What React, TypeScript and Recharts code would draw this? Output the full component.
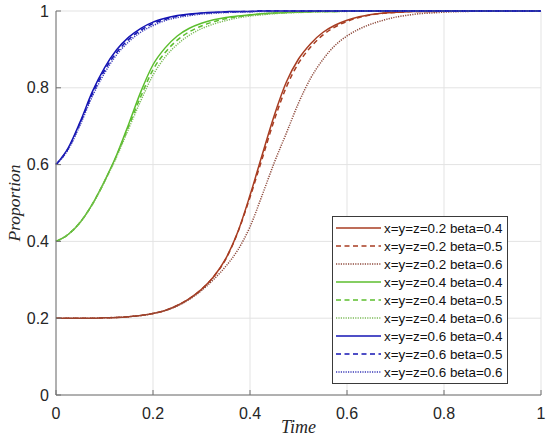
import React from 'react';
import { LineChart, Line, XAxis, YAxis, CartesianGrid, Legend } from 'recharts';

const TIME = [
  0, 0.025, 0.05, 0.075, 0.1, 0.125, 0.15, 0.175, 0.2, 0.225, 0.25, 0.275, 0.3, 0.325, 0.35, 0.375, 0.4,
  0.425, 0.45, 0.475, 0.5, 0.525, 0.55, 0.575, 0.6, 0.625, 0.65, 0.675, 0.7, 0.725, 0.75, 0.775, 0.8,
  0.85, 0.9, 0.95, 1,
];

const X_TICKS = [0, 0.2, 0.4, 0.6, 0.8, 1];
const Y_TICKS = [0, 0.2, 0.4, 0.6, 0.8, 1];
const X_TICK_LABELS = ['0', '0.2', '0.4', '0.6', '0.8', '1'];
const Y_TICK_LABELS = ['0', '0.2', '0.4', '0.6', '0.8', '1'];

const red_b04 = [
  0.200, 0.200, 0.200, 0.200, 0.201, 0.202, 0.204, 0.207, 0.212, 0.220, 0.233, 0.251, 0.275, 0.308, 0.355, 0.425, 0.520,
  0.625, 0.728, 0.815, 0.875, 0.915, 0.944, 0.963, 0.976, 0.985, 0.991, 0.995, 0.997, 0.998, 0.999, 0.999, 1,
  1, 1, 1, 1,
];
const red_b05 = [
  0.200, 0.200, 0.200, 0.200, 0.201, 0.202, 0.204, 0.207, 0.212, 0.220, 0.233, 0.251, 0.275, 0.308, 0.354, 0.424, 0.515,
  0.615, 0.716, 0.802, 0.864, 0.906, 0.937, 0.958, 0.973, 0.983, 0.990, 0.994, 0.996, 0.998, 0.999, 0.999, 1,
  1, 1, 1, 1,
];
const red_b06 = [
  0.200, 0.200, 0.200, 0.200, 0.201, 0.202, 0.204, 0.207, 0.212, 0.220, 0.232, 0.249, 0.272, 0.301, 0.335, 0.378, 0.438,
  0.520, 0.605, 0.682, 0.760, 0.825, 0.873, 0.910, 0.935, 0.953, 0.966, 0.976, 0.984, 0.989, 0.993, 0.995, 0.997,
  0.999, 1, 1, 1,
];
const green_b04 = [
  0.400, 0.418, 0.450, 0.497, 0.557, 0.625, 0.706, 0.790, 0.860, 0.904, 0.935, 0.955, 0.968, 0.977, 0.983, 0.987, 0.990,
  0.993, 0.995, 0.996, 0.997, 0.998, 0.999, 0.999, 1, 1, 1, 1, 1, 1, 1, 1, 1,
  1, 1, 1, 1,
];
const green_b05 = [
  0.400, 0.418, 0.450, 0.497, 0.556, 0.623, 0.700, 0.778, 0.847, 0.892, 0.924, 0.946, 0.961, 0.972, 0.980, 0.985, 0.989,
  0.992, 0.994, 0.996, 0.997, 0.998, 0.999, 0.999, 1, 1, 1, 1, 1, 1, 1, 1, 1,
  1, 1, 1, 1,
];
const green_b06 = [
  0.400, 0.418, 0.450, 0.496, 0.555, 0.620, 0.694, 0.767, 0.833, 0.880, 0.913, 0.937, 0.954, 0.966, 0.975, 0.982, 0.987,
  0.990, 0.993, 0.995, 0.996, 0.997, 0.998, 0.999, 0.999, 1, 1, 1, 1, 1, 1, 1, 1,
  1, 1, 1, 1,
];
const blue_b04 = [
  0.600, 0.643, 0.712, 0.790, 0.852, 0.899, 0.932, 0.955, 0.971, 0.981, 0.988, 0.992, 0.995, 0.997, 0.998, 0.999, 0.999,
  1, 1, 1, 1, 1, 1, 1, 1, 1, 1, 1, 1, 1, 1, 1, 1,
  1, 1, 1, 1,
];
const blue_b05 = [
  0.600, 0.641, 0.708, 0.784, 0.845, 0.892, 0.926, 0.950, 0.967, 0.978, 0.986, 0.990, 0.994, 0.996, 0.997, 0.998, 0.999,
  1, 1, 1, 1, 1, 1, 1, 1, 1, 1, 1, 1, 1, 1, 1, 1,
  1, 1, 1, 1,
];
const blue_b06 = [
  0.600, 0.639, 0.704, 0.778, 0.838, 0.886, 0.920, 0.945, 0.962, 0.975, 0.983, 0.988, 0.992, 0.994, 0.996, 0.997, 0.998,
  0.999, 0.999, 1, 1, 1, 1, 1, 1, 1, 1, 1, 1, 1, 1, 1, 1,
  1, 1, 1, 1,
];

const SERIES_NAMES = [
  'x=y=z=0.2 beta=0.4',
  'x=y=z=0.2 beta=0.5',
  'x=y=z=0.2 beta=0.6',
  'x=y=z=0.4 beta=0.4',
  'x=y=z=0.4 beta=0.5',
  'x=y=z=0.4 beta=0.6',
  'x=y=z=0.6 beta=0.4',
  'x=y=z=0.6 beta=0.5',
  'x=y=z=0.6 beta=0.6',
];
const SERIES_VALUES = [red_b04, red_b05, red_b06, green_b04, green_b05, green_b06, blue_b04, blue_b05, blue_b06];

const RED = '#A83D22';
const RED_DOT = '#8E4A3C';
const GREEN = '#5CBE2E';
const GREEN_DOT = '#7DBB5A';
const BLUE = '#1414B4';
const BLUE_DOT = '#3A3AB8';
const COLORS = [RED, RED, RED_DOT, GREEN, GREEN, GREEN_DOT, BLUE, BLUE, BLUE_DOT];
const DASHES = ['', '5 3.5', '1.2 1.2', '', '5 3.5', '1.2 1.2', '', '5 3.5', '1.2 1.2'];

const data = TIME.map((t, i) => {
  const row: Record<string, number> = { t };
  SERIES_VALUES.forEach((vals, k) => {
    row['s' + k] = vals[i];
  });
  return row;
});

const TICK_FONT = { fontFamily: '"Liberation Sans", Arial, sans-serif', fontSize: 16, fill: '#262626' };
const AXIS_COLOR = '#707070';

const LegendBox = () => (
  <div
    style={{
      width: 174,
      height: 164,
      border: '1px solid #3a3a3a',
      background: '#fff',
      paddingTop: 2,
      boxSizing: 'content-box',
    }}
  >
    {SERIES_NAMES.map((name, k) => (
      <div key={name} style={{ display: 'flex', alignItems: 'center', height: 18 }}>
        <svg width={50} height={18} style={{ display: 'block' }}>
          <line
            x1={3}
            x2={48}
            y1={9}
            y2={9}
            stroke={COLORS[k]}
            strokeWidth={1.6}
            strokeDasharray={DASHES[k] || undefined}
          />
        </svg>
        <span
          style={{
            fontFamily: '"Liberation Sans", Arial, sans-serif',
            fontSize: 13.4,
            color: '#111',
            marginLeft: 1,
            whiteSpace: 'nowrap',
          }}
        >
          {name}
        </span>
      </div>
    ))}
  </div>
);

const XLabel = (props: any) => {
  const vb = props.viewBox || {};
  return (
    <text
      x={vb.x + vb.width / 2}
      y={vb.y + 38}
      textAnchor="middle"
      style={{ fontFamily: '"Liberation Serif", "Times New Roman", serif', fontStyle: 'italic', fontSize: 18, fill: '#262626' }}
    >
      Time
    </text>
  );
};

const YLabel = (props: any) => {
  const vb = props.viewBox || {};
  const cx = 14;
  const cy = vb.y + 192;
  return (
    <text
      x={cx}
      y={cy}
      textAnchor="middle"
      dominantBaseline="central"
      transform={`rotate(-90, ${cx}, ${cy})`}
      style={{ fontFamily: '"Liberation Serif", "Times New Roman", serif', fontStyle: 'italic', fontSize: 17.5, fill: '#262626' }}
    >
      Proportion
    </text>
  );
};

export default function App() {
  return (
    <div style={{ position: 'absolute', left: 0, top: 0, width: 550, height: 443, background: '#fff' }}>
      <LineChart width={550} height={443} data={data} margin={{ top: 11, right: 9, left: 0, bottom: 0 }}>
        <CartesianGrid stroke="#E3E3E3" strokeWidth={1} />
        <XAxis
          dataKey="t"
          type="number"
          domain={[0, 1]}
          ticks={X_TICKS}
          tickFormatter={(v: number) => X_TICK_LABELS[X_TICKS.indexOf(v)] ?? String(v)}
          height={48}
          tickSize={-5}
          tickMargin={18}
          tick={TICK_FONT}
          stroke={AXIS_COLOR}
          axisLine={{ stroke: AXIS_COLOR }}
          tickLine={{ stroke: AXIS_COLOR }}
          label={<XLabel />}
        />
        <XAxis
          xAxisId="top"
          orientation="top"
          dataKey="t"
          type="number"
          domain={[0, 1]}
          ticks={X_TICKS}
          height={0}
          tickSize={-5}
          tick={false}
          axisLine={{ stroke: AXIS_COLOR }}
          tickLine={{ stroke: AXIS_COLOR }}
        />
        <YAxis
          type="number"
          domain={[0, 1]}
          ticks={Y_TICKS}
          tickFormatter={(v: number) => Y_TICK_LABELS[Y_TICKS.indexOf(v)] ?? String(v)}
          width={56}
          tickSize={-5}
          tickMargin={12}
          tick={TICK_FONT}
          axisLine={{ stroke: AXIS_COLOR }}
          tickLine={{ stroke: AXIS_COLOR }}
          label={<YLabel />}
        />
        <YAxis
          yAxisId="right"
          orientation="right"
          type="number"
          domain={[0, 1]}
          ticks={Y_TICKS}
          width={0}
          tickSize={-5}
          tick={false}
          axisLine={{ stroke: AXIS_COLOR }}
          tickLine={{ stroke: AXIS_COLOR }}
        />
        {SERIES_NAMES.map((name, k) => (
          <Line
            key={name}
            type="monotone"
            dataKey={'s' + k}
            name={name}
            stroke={COLORS[k]}
            strokeWidth={1.5}
            strokeDasharray={DASHES[k] || undefined}
            dot={false}
            activeDot={false}
            isAnimationActive={false}
          />
        ))}
        <Legend
          layout="vertical"
          align="center"
          verticalAlign="middle"
          content={<LegendBox />}
          wrapperStyle={{ left: 332, top: 216, width: 176, height: 166 }}
        />
      </LineChart>
    </div>
  );
}
